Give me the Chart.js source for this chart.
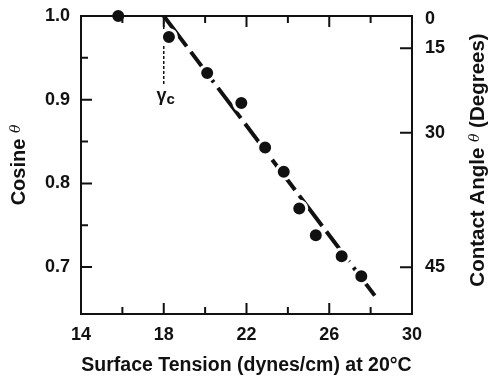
<!DOCTYPE html>
<html>
<head>
<meta charset="utf-8">
<script src="https://cdn.jsdelivr.net/npm/chart.js@4.4.1/dist/chart.umd.min.js"></script>
<style>
  html, body { margin: 0; padding: 0; background: #fff; }
  canvas { display: block; }
</style>
</head>
<body>
<canvas id="zismanChart" width="488" height="379"></canvas>
<script>
// measured points: surface tension vs cosine of contact angle
const surfaceTension = [15.8, 18.25, 20.1, 21.75, 22.9, 23.8, 24.55, 25.35, 26.6, 27.55];
const cosTheta = [1.0, 0.975, 0.932, 0.896, 0.843, 0.814, 0.770, 0.738, 0.713, 0.689];

// fitted line end points
const fitX = [18.0, 28.2];
const fitY = [1.0, 0.666];

// critical surface tension marker (gamma c)
const gammaX = [18.0, 18.0];
const gammaY = [1.0, 0.917];

// axis ticks
const xTicks = [14, 18, 22, 26, 30];
const xMinorTicks = [16, 20, 24, 28];
const yTicks = [0.7, 0.8, 0.9, 1.0];
const yMinorTicks = [0.75, 0.85, 0.95];
const angleTicks = [0, 15, 30, 45];

const FONT = "'Liberation Sans', Arial, Helvetica, sans-serif";
const toCos = deg => Math.cos(deg * Math.PI / 180);
const Y_MIN = 0.644, Y_MAX = 1.0;
// the printed angle axis sits a few pixels lower than the cosine axis
const Y1_MIN = 0.652, Y1_MAX = 1.004;

function pairs(xs, ys) {
  return xs.map((v, i) => ({ x: v, y: ys[i] }));
}

function drawParts(ctx, parts, cx, cy, rotate) {
  ctx.save();
  ctx.translate(cx, cy);
  if (rotate) ctx.rotate(-Math.PI / 2);
  ctx.textBaseline = 'middle';
  ctx.textAlign = 'left';
  let total = 0;
  parts.forEach(p => { ctx.font = p.font; total += ctx.measureText(p.text).width; });
  let pos = -total / 2;
  parts.forEach(p => {
    ctx.font = p.font;
    ctx.fillText(p.text, pos, p.dy || 0);
    pos += ctx.measureText(p.text).width;
  });
  ctx.restore();
}

// vertical axes: fixed width, no extra label overflow padding
function fixVertical(width) {
  return s => {
    s.width = width;
    s.paddingTop = 0;
    s.paddingBottom = 0;
  };
}

// frame with inward ticks, like the printed figure
const framePlugin = {
  id: 'frame',
  afterDatasetsDraw(chart) {
    const { ctx, chartArea: a, scales: { x, y, y1 } } = chart;
    ctx.save();
    ctx.strokeStyle = '#111';
    ctx.lineWidth = 2;
    ctx.strokeRect(a.left, a.top, a.right - a.left, a.bottom - a.top);
    ctx.beginPath();
    const vtick = (v, len) => {
      const px = x.getPixelForValue(v);
      ctx.moveTo(px, a.bottom); ctx.lineTo(px, a.bottom - len);
      ctx.moveTo(px, a.top); ctx.lineTo(px, a.top + len);
    };
    xTicks.slice(1, -1).forEach(v => vtick(v, 11));
    xMinorTicks.forEach(v => vtick(v, 7));
    yTicks.slice(0, -1).forEach(v => {
      const py = y.getPixelForValue(v);
      ctx.moveTo(a.left, py); ctx.lineTo(a.left + 11, py);
    });
    yMinorTicks.forEach(v => {
      const py = y.getPixelForValue(v);
      ctx.moveTo(a.left, py); ctx.lineTo(a.left + 7, py);
    });
    angleTicks.slice(1).forEach(d => {
      const py = y1.getPixelForValue(toCos(d));
      ctx.moveTo(a.right, py); ctx.lineTo(a.right - 12, py);
    });
    ctx.stroke();
    ctx.restore();
  },
  afterDraw(chart) {
    const { ctx, chartArea: a, scales: { x, y } } = chart;
    ctx.save();
    ctx.fillStyle = '#111';
    const midY = (a.top + a.bottom) / 2;
    drawParts(ctx, [
      { text: 'Cosine ', font: 'bold 20px ' + FONT },
      { text: 'θ', font: "italic 14px 'DejaVu Serif', serif", dy: -3 }
    ], a.left - 62, midY, true);
    drawParts(ctx, [
      { text: 'Contact Angle ', font: 'bold 20.5px ' + FONT },
      { text: 'θ', font: "italic 14px 'DejaVu Serif', serif", dy: -3 },
      { text: ' (Degrees)', font: 'bold 20.5px ' + FONT }
    ], a.right + 66, midY - 5, true);
    // gamma c label below the dashed marker
    const gx = x.getPixelForValue(gammaX[0]);
    const gy = y.getPixelForValue(gammaY[1]) + 11;
    drawParts(ctx, [
      { text: 'γ', font: 'bold 18px ' + FONT },
      { text: 'c', font: 'bold 15px ' + FONT, dy: 3 }
    ], gx + 2, gy, false);
    ctx.restore();
  }
};

const ctx = document.getElementById('zismanChart').getContext('2d');
const chart = new Chart(ctx, {
  type: 'scatter',
  data: {
    datasets: [
      {
        label: 'Measured',
        data: pairs(surfaceTension, cosTheta),
        backgroundColor: '#111',
        borderColor: '#fff',
        borderWidth: 3,
        pointRadius: 7.5,
        clip: false,
        order: 1
      },
      {
        label: 'Fit',
        type: 'line',
        data: pairs(fitX, fitY),
        borderColor: '#111',
        borderWidth: 4,
        borderDash: [38, 7],
        pointRadius: 0,
        fill: false,
        clip: false,
        order: 2
      },
      {
        label: 'gamma c',
        type: 'line',
        data: pairs(gammaX, gammaY),
        borderColor: '#111',
        borderWidth: 1.5,
        borderDash: [3, 2],
        pointRadius: 0,
        fill: false,
        order: 3
      }
    ]
  },
  options: {
    responsive: false,
    devicePixelRatio: 1,
    animation: false,
    layout: { padding: { top: 16, left: 0, right: 0, bottom: 0 } },
    plugins: {
      legend: { display: false },
      tooltip: { enabled: false }
    },
    scales: {
      x: {
        type: 'linear',
        min: 14,
        max: 30,
        afterBuildTicks: s => { s.ticks = xTicks.map(v => ({ value: v })); },
        afterFit: s => { s.height = 65; },
        grid: { display: false, drawTicks: false },
        border: { display: false },
        ticks: {
          color: '#111',
          padding: 10,
          font: { family: FONT, size: 18, weight: 'bold' }
        },
        title: {
          display: true,
          text: 'Surface Tension (dynes/cm) at 20°C',
          color: '#111',
          padding: { top: 0, bottom: 2 },
          font: { family: FONT, size: 19.5, weight: 'bold' }
        }
      },
      y: {
        type: 'linear',
        position: 'left',
        min: Y_MIN,
        max: Y_MAX,
        afterBuildTicks: s => { s.ticks = yTicks.map(v => ({ value: v })); },
        afterFit: fixVertical(81),
        grid: { display: false, drawTicks: false },
        border: { display: false },
        ticks: {
          color: '#111',
          padding: 11,
          font: { family: FONT, size: 18, weight: 'bold' },
          callback: v => v.toFixed(1)
        }
      },
      y1: {
        type: 'linear',
        position: 'right',
        min: Y1_MIN,
        max: Y1_MAX,
        afterBuildTicks: s => { s.ticks = angleTicks.map(d => ({ value: toCos(d) })); },
        afterFit: fixVertical(76),
        grid: { display: false, drawTicks: false },
        border: { display: false },
        ticks: {
          color: '#111',
          padding: 13,
          font: { family: FONT, size: 18, weight: 'bold' },
          callback: (v, i) => String(angleTicks[i])
        }
      }
    }
  },
  plugins: [framePlugin]
});
</script>
</body>
</html>
